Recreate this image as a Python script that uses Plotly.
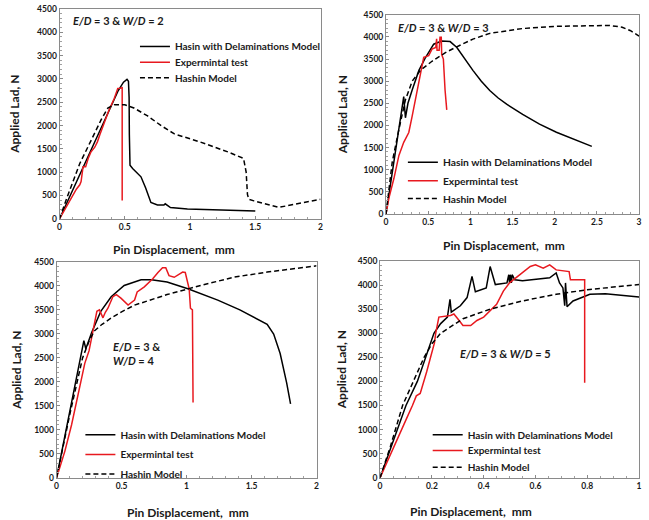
import plotly.graph_objects as go

# ---------------- data ----------------
# Panel 1: E/D = 3 & W/D = 2
p1_del_x = [0, 0.1, 0.2, 0.3, 0.4, 0.45, 0.49, 0.517, 0.528, 0.533, 0.535, 0.54, 0.56, 0.6, 0.624, 0.66, 0.70, 0.75, 0.80, 0.81, 0.85, 0.98, 1.2, 1.5]
p1_del_y = [0, 610, 1220, 1840, 2450, 2750, 2930, 2990, 2950, 2600, 1800, 1150, 1080, 980, 900, 660, 350, 295, 295, 322, 240, 210, 195, 170]
p1_exp_x = [0, 0.03, 0.05, 0.08, 0.10, 0.13, 0.155, 0.165, 0.18, 0.20, 0.22, 0.24, 0.27, 0.29, 0.31, 0.345, 0.38, 0.42, 0.446, 0.465, 0.48, 0.48]
p1_exp_y = [0, 150, 238, 400, 520, 640, 730, 800, 1115, 1115, 1300, 1430, 1535, 1650, 1815, 2096, 2340, 2586, 2797, 2800, 2810, 393]
p1_has_x = [0, 0.06, 0.155, 0.24, 0.32, 0.37, 0.42, 0.5, 0.57, 0.675, 0.78, 0.88, 1.08, 1.29, 1.41, 1.43, 1.44, 1.45, 1.49, 1.68, 2.0]
p1_has_y = [0, 480, 1185, 1675, 2130, 2376, 2445, 2445, 2376, 2205, 1995, 1820, 1645, 1435, 1295, 1000, 525, 420, 385, 245, 420]

# Panel 2: E/D = 3 & W/D = 3
p2_del_x = [0, 0.05, 0.1, 0.15, 0.21, 0.23, 0.26, 0.31, 0.39, 0.47, 0.565, 0.66, 0.76, 0.84, 0.92, 1.03, 1.13, 1.23, 1.33, 1.43, 1.62, 1.82, 2.02, 2.21, 2.44]
p2_del_y = [0, 650, 1300, 1950, 2653, 2172, 2500, 2800, 3243, 3540, 3835, 3908, 3895, 3762, 3540, 3245, 3000, 2790, 2620, 2480, 2250, 2030, 1845, 1695, 1525]
p2_exp_x = [0, 0.035, 0.094, 0.153, 0.21, 0.27, 0.31, 0.37, 0.43, 0.447, 0.506, 0.545, 0.59, 0.60, 0.605, 0.63, 0.64, 0.655, 0.66, 0.68, 0.70, 0.72]
p2_exp_y = [0, 361, 805, 1323, 1618, 1840, 2210, 2800, 3318, 3540, 3576, 3724, 3762, 3960, 3700, 3700, 3990, 3990, 3600, 3500, 2800, 2350]
p2_has_x = [0, 0.074, 0.153, 0.23, 0.31, 0.41, 0.545, 0.70, 0.82, 1.03, 1.23, 1.62, 2.02, 2.41, 2.65, 2.80, 2.9, 3.0]
p2_has_y = [0, 1175, 1913, 2578, 3000, 3250, 3450, 3640, 3760, 3950, 4080, 4190, 4240, 4260, 4260, 4220, 4140, 4020]

# Panel 3: E/D = 3 & W/D = 4
p3_del_x = [0, 0.05, 0.1, 0.15, 0.21, 0.225, 0.27, 0.34, 0.42, 0.52, 0.65, 0.73, 0.85, 1.01, 1.24, 1.41, 1.62, 1.67, 1.72, 1.77, 1.80]
p3_del_y = [0, 700, 1400, 2100, 2860, 2690, 3030, 3470, 3775, 4010, 4130, 4130, 4080, 3940, 3705, 3500, 3200, 2995, 2590, 1980, 1540]
p3_exp_x = [0, 0.064, 0.115, 0.166, 0.217, 0.25, 0.27, 0.29, 0.31, 0.33, 0.357, 0.375, 0.395, 0.433, 0.46, 0.497, 0.55, 0.60, 0.62, 0.675, 0.74, 0.78, 0.815, 0.84, 0.865, 0.905, 0.97, 0.99, 1.02, 1.03, 1.045, 1.05]
p3_exp_y = [0, 555, 1100, 1710, 2385, 2650, 2925, 3200, 3470, 3500, 3335, 3450, 3535, 3775, 3820, 3740, 3600, 3705, 3875, 3980, 4150, 4280, 4380, 4380, 4215, 4180, 4290, 4280, 3940, 3535, 3500, 1570]
p3_has_x = [0, 0.1, 0.2, 0.25, 0.29, 0.35, 0.42, 0.5, 0.60, 0.85, 1.11, 1.36, 1.62, 2.0]
p3_has_y = [0, 1300, 2500, 2850, 3060, 3200, 3330, 3460, 3600, 3820, 4010, 4180, 4290, 4420]

# Panel 4: E/D = 3 & W/D = 5
p4_del_x = [0, 0.065, 0.10, 0.144, 0.176, 0.208, 0.234, 0.26, 0.27, 0.275, 0.31, 0.336, 0.355, 0.368, 0.41, 0.425, 0.445, 0.49, 0.497, 0.50, 0.503, 0.507, 0.51, 0.52, 0.55, 0.62, 0.655, 0.68, 0.693, 0.706, 0.713, 0.716, 0.72, 0.722, 0.745, 0.81, 0.87, 1.0]
p4_del_y = [0, 1000, 1500, 2000, 2500, 3000, 3200, 3335, 3705, 3440, 3570, 3740, 4180, 3860, 3940, 4385, 4010, 4045, 4215, 4045, 4215, 4045, 4215, 4110, 4090, 4130, 4150, 4250, 4045, 3940, 3570, 4045, 3600, 3550, 3670, 3810, 3820, 3750]
p4_exp_x = [0, 0.03, 0.06, 0.085, 0.10, 0.125, 0.14, 0.155, 0.17, 0.18, 0.195, 0.21, 0.215, 0.227, 0.272, 0.285, 0.30, 0.32, 0.35, 0.374, 0.40, 0.425, 0.45, 0.476, 0.50, 0.54, 0.58, 0.60, 0.63, 0.655, 0.68, 0.73, 0.735, 0.79, 0.79]
p4_exp_y = [0, 350, 700, 1000, 1200, 1500, 1700, 1750, 2000, 2200, 2500, 2800, 3000, 3335, 3370, 3400, 3300, 3160, 3160, 3265, 3335, 3470, 3600, 3875, 4045, 4215, 4385, 4420, 4350, 4420, 4315, 4280, 4110, 4110, 1970]
p4_has_x = [0, 0.04, 0.087, 0.13, 0.17, 0.2, 0.234, 0.32, 0.425, 0.55, 0.68, 0.81, 1.0]
p4_has_y = [0, 650, 1500, 2000, 2500, 2780, 3000, 3300, 3500, 3670, 3810, 3910, 4010]

series_names = ["Hasin with Delaminations Model", "Expermintal test", "Hashin Model"]
panel_labels = ["<i>E/D</i> = 3 &amp; <i>W/D</i> = 2",
                "<i>E/D</i> = 3 &amp; <i>W/D</i> = 3",
                "<i>E/D</i> = 3 &amp;<br><i>W/D</i> = 4",
                "<i>E/D</i> = 3 &amp; <i>W/D</i> = 5"]
x_max = [2, 3, 2, 1]
x_dtick = [0.5, 0.5, 0.5, 0.2]
x_minor = [0.1, 0.1, 0.1, 0.05]
y_max = 4500
y_dtick = 500

# ---------------- layout geometry ----------------
W, H = 649, 520
FONT = "Lato"
# plot area boxes in pixels: (left, right, top, bottom)
boxes = [(58, 321, 4, 218), (387, 642, 10, 213), (55, 317, 262, 482), (381, 642, 261, 482)]
# legend rows: text start x, row centre y for each of the three series
legend_text_x = [177, 447, 122, 472]
legend_rows = [(47, 63, 79), (165, 184, 202), (443, 463, 483), (443, 459, 476)]
legend_font = [10, 10.3, 10, 10]

fig = go.Figure()
panels = [
    (p1_del_x, p1_del_y, p1_exp_x, p1_exp_y, p1_has_x, p1_has_y),
    (p2_del_x, p2_del_y, p2_exp_x, p2_exp_y, p2_has_x, p2_has_y),
    (p3_del_x, p3_del_y, p3_exp_x, p3_exp_y, p3_has_x, p3_has_y),
    (p4_del_x, p4_del_y, p4_exp_x, p4_exp_y, p4_has_x, p4_has_y),
]
styles = [dict(color="black", width=1.5),
          dict(color="#e8191f", width=1.5),
          dict(color="black", width=1.5, dash="5px,3px")]

layout = dict(width=W, height=H, margin=dict(l=0, r=0, t=0, b=0),
              paper_bgcolor="white", plot_bgcolor="white", showlegend=True)

n = 0
for i, pdata in enumerate(panels):
    xa = "x" if i == 0 else f"x{i+1}"
    ya = "y" if i == 0 else f"y{i+1}"
    for s in range(3):
        n += 1
        lg = "legend" if n == 1 else f"legend{n}"
        fig.add_trace(go.Scatter(x=pdata[2 * s], y=pdata[2 * s + 1], mode="lines", name=series_names[s],
                                 line=styles[s], xaxis=xa, yaxis=ya, legend=lg))
        layout[lg] = dict(x=(legend_text_x[i] - 43) / W, y=1 - (legend_rows[i][s] - 19.5) / H,
                          xanchor="left", yanchor="top",
                          bgcolor="rgba(0,0,0,0)", borderwidth=0,
                          font=dict(family=FONT, size=legend_font[i], color="#1a1a1a", weight="bold"))

tickfont = dict(family=FONT, size=8.5, color="#1a1a1a", weight="bold")
for i, (l, r, t, b) in enumerate(boxes):
    xk = "xaxis" if i == 0 else f"xaxis{i+1}"
    yk = "yaxis" if i == 0 else f"yaxis{i+1}"
    ya = "y" if i == 0 else f"y{i+1}"
    xa = "x" if i == 0 else f"x{i+1}"
    layout[xk] = dict(domain=[l / W, r / W], anchor=ya, range=[0, x_max[i]], dtick=x_dtick[i],
                      showline=True, linecolor="#8a8a8a", linewidth=1, mirror=True,
                      ticks="inside", ticklen=3, tickcolor="#8a8a8a",
                      minor=dict(ticks="inside", ticklen=2, dtick=x_minor[i], tickcolor="#a0a0a0"),
                      showgrid=False, zeroline=False, tickfont=tickfont)
    layout[yk] = dict(domain=[1 - b / H, 1 - t / H], anchor=xa, range=[0, y_max], dtick=y_dtick,
                      showline=True, linecolor="#8a8a8a", linewidth=1, mirror=True,
                      ticks="inside", ticklen=3, tickcolor="#8a8a8a",
                      minor=dict(ticks="inside", ticklen=2, dtick=100, tickcolor="#a0a0a0"),
                      showgrid=False, zeroline=False, tickfont=tickfont)

annotations = []
label_pos = [(70, 16), (397, 23), (110, 355), (460, 355)]
for i, (ax, ay) in enumerate(label_pos):
    annotations.append(dict(text="<b>" + panel_labels[i] + "</b>", x=ax / W, y=1 - ay / H,
                            xref="paper", yref="paper", xanchor="left", yanchor="middle",
                            align="left", showarrow=False,
                            font=dict(family=FONT, size=11, color="#1a1a1a")))
ytitle_pos = [(13, 111), (343, 112), (15, 372), (342, 372)]
xtitle_pos = [(173, 249), (506, 245), (187, 517), (473, 516)]
for i in range(4):
    annotations.append(dict(text="<b>Applied Lad, N</b>", x=ytitle_pos[i][0] / W, y=1 - ytitle_pos[i][1] / H,
                            xref="paper", yref="paper", xanchor="center", yanchor="middle",
                            textangle=-90, showarrow=False,
                            font=dict(family=FONT, size=12, color="#1a1a1a")))
    annotations.append(dict(text="<b>Pin Displacement,\u00a0 mm</b>", x=xtitle_pos[i][0] / W, y=1 - xtitle_pos[i][1] / H,
                            xref="paper", yref="paper", xanchor="center", yanchor="middle",
                            showarrow=False,
                            font=dict(family=FONT, size=12, color="#1a1a1a")))
layout["annotations"] = annotations

fig.update_layout(**layout)
fig.write_html("out.html")
